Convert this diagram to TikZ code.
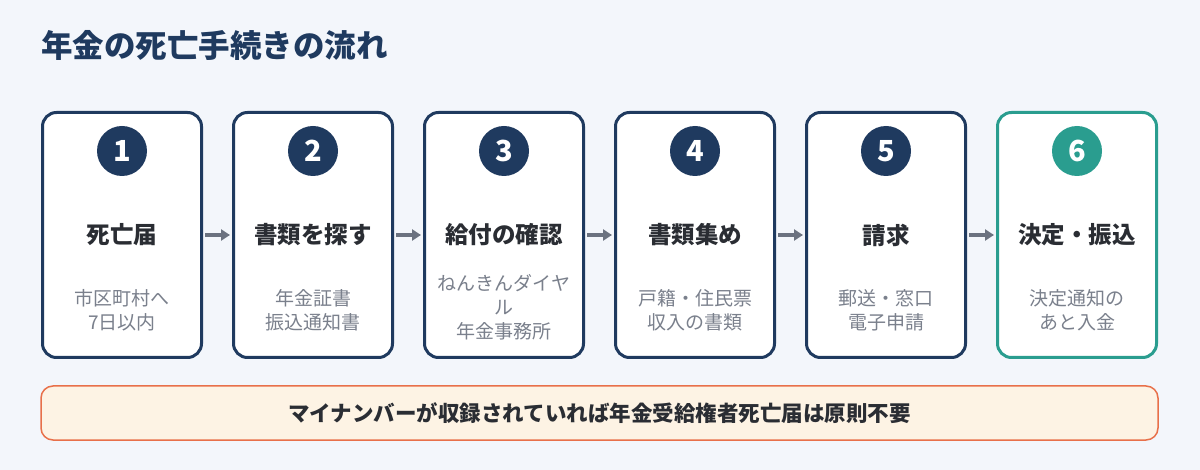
\documentclass[tikz,border=0pt]{standalone}
\usepackage{fontspec}
\setmainfont{Noto Sans CJK JP}
\usetikzlibrary{arrows.meta}
\definecolor{bg}{HTML}{F3F6FB}
\definecolor{navy}{HTML}{1F3A5F}
\definecolor{teal6}{HTML}{2A9D8F}
\definecolor{subgray}{HTML}{7A808C}
\definecolor{ink}{HTML}{2A2D33}
\definecolor{arrowgray}{HTML}{6B7280}
\definecolor{notefill}{HTML}{FDF3E4}
\definecolor{noteline}{HTML}{E8704A}
\tikzset{
  stepbox/.style={draw=navy, line width=3pt, fill=white, rounded corners=14pt, minimum width=159pt, minimum height=245pt, inner sep=0pt},
  numcircle/.style={circle, fill=navy, minimum size=50pt, inner sep=0pt, text=white, font=\fontsize{29pt}{29pt}\selectfont\bfseries},
  steptitle/.style={font=\fontsize{23.5pt}{26pt}\selectfont\bfseries, text=ink, inner sep=0pt},
  stepsub/.style={font=\fontsize{19pt}{24pt}\selectfont, text=subgray, align=center, inner sep=0pt},
  flow/.style={draw=arrowgray, line width=4pt, -{Triangle[length=9pt,width=11pt]}, shorten >=2pt, shorten <=2pt},
}
\begin{document}
\begin{tikzpicture}[x=1pt,y=-1pt]
\useasboundingbox[fill=bg] (0,0) rectangle (1200,470);
\node[anchor=west, text=navy, font=\fontsize{31.5pt}{32pt}\selectfont\bfseries, inner sep=0pt] (title) at (41,45) {年金の死亡手続きの流れ};
% boxes
\foreach \i/\x in {1/122,2/313,3/504,4/695,5/886}{
  \node[stepbox] (b\i) at (\x,235) {};
  \node[numcircle] (c\i) at (\x,151) {\i};
}
\node[stepbox, draw=teal6] (b6) at (1077,235) {};
\node[numcircle, fill=teal6] (c6) at (1077,151) {6};
\node[steptitle] (t1) at (122,235) {死亡届};
\node[steptitle] (t2) at (313,235) {書類を探す};
\node[steptitle] (t3) at (504,235) {給付の確認};
\node[steptitle] (t4) at (695,235) {書類集め};
\node[steptitle] (t5) at (886,235) {請求};
\node[steptitle] (t6) at (1077,235) {決定・振込};
\node[stepsub] (s1) at (122,310) {市区町村へ\\7日以内};
\node[stepsub] (s2) at (313,310) {年金証書\\振込通知書};
\node[stepsub] (s3) at (504,307) {ねんきんダイヤ\\ル\\年金事務所};
\node[stepsub] (s4) at (695,310) {戸籍・住民票\\収入の書類};
\node[stepsub] (s5) at (886,310) {郵送・窓口\\電子申請};
\node[stepsub] (s6) at (1077,310) {決定通知の\\あと入金};
\foreach \a/\b in {1/2,2/3,3/4,4/5,5/6}{
  \draw[flow] (b\a.east |- t\a) -- (b\b.west |- t\b);
}
\node[draw=noteline, line width=1.5pt, fill=notefill, rounded corners=12pt, minimum width=1117pt, minimum height=54pt, inner sep=0pt, font=\fontsize{21.5pt}{22pt}\selectfont\bfseries, text=ink] (note) at (599.5,413) {マイナンバーが収録されていれば年金受給権者死亡届は原則不要};
\end{tikzpicture}
\end{document}
